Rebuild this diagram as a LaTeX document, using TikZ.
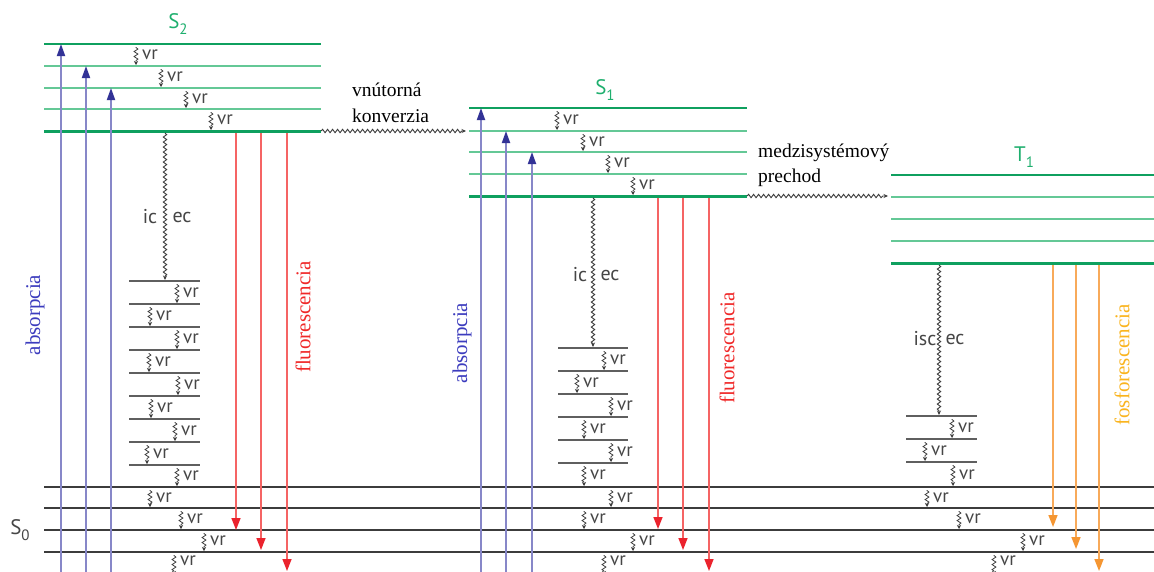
\documentclass[tikz,border=0pt]{standalone}
\usepackage{fontspec}
\setmainfont{Liberation Serif}
\setsansfont{PT Sans}
\usetikzlibrary{arrows.meta,decorations.pathmorphing}
\definecolor{greenD}{RGB}{15,160,95}
\definecolor{greenL}{RGB}{100,200,150}
\definecolor{greenS}{RGB}{30,175,110}
\definecolor{blueL}{RGB}{135,135,200}
\definecolor{blueD}{RGB}{50,50,150}
\definecolor{blueT}{RGB}{60,60,190}
\definecolor{redL}{RGB}{245,100,100}
\definecolor{redD}{RGB}{235,35,45}
\definecolor{redT}{RGB}{240,40,40}
\definecolor{orangeL}{RGB}{248,170,90}
\definecolor{orangeD}{RGB}{245,150,50}
\definecolor{orangeT}{RGB}{250,180,30}
\definecolor{grayD}{RGB}{60,60,60}
\definecolor{grayL}{RGB}{95,95,95}
\definecolor{waveC}{RGB}{60,60,60}
\definecolor{labC}{RGB}{70,70,70}
% x, ytop, ybottom, name, label y
\newcommand\vrm[5]{%
  \coordinate (#4t) at (#1,#2+3);
  \coordinate (#4b) at (#1,#3-1);
  \draw[vrsq] (#4t) -- (#4b);
  \node[vrlab] (#4) at (#1+6,#5) {vr};
}
\begin{document}
\begin{tikzpicture}[x=1pt,y=-1pt,
  lvtop/.style={draw=greenD,line width=1.8pt},
  lvmid/.style={draw=greenL,line width=1.6pt},
  lvbot/.style={draw=greenD,line width=3pt},
  lvgray/.style={draw=grayL,line width=1.3pt},
  lvground/.style={draw=grayD,line width=1.3pt},
  absarr/.style={draw=blueL,line width=1.8pt,-{Triangle[length=12pt,width=8pt,color=blueD]}},
  fluarr/.style={draw=redL,line width=1.5pt,-{Triangle[length=12pt,width=9pt,color=redD]}},
  fosarr/.style={draw=orangeL,line width=1.5pt,-{Triangle[length=12pt,width=9pt,color=orangeD]}},
  vrsq/.style={draw=waveC,line width=0.8pt,decorate,decoration={snake,amplitude=1.9pt,segment length=5pt,pre length=0.5pt,post length=3pt},-{Stealth[length=4pt,width=4pt]}},
  wavy/.style={draw=waveC,line width=0.9pt,decorate,decoration={snake,amplitude=1.7pt,segment length=5pt,post length=3pt},-{Stealth[length=4.5pt,width=4pt]}},
  vrlab/.style={font=\sffamily\fontsize{19}{19}\selectfont,text=labC,anchor=west,inner sep=0pt},
  sublab/.style={font=\sffamily\fontsize{20}{20}\selectfont,text=labC,inner sep=0pt},
  statelab/.style={font=\sffamily\fontsize{21}{21}\selectfont,text=greenS,inner sep=0pt},
  serlab/.style={font=\rmfamily\fontsize{19.5}{26}\selectfont,anchor=base west,inner sep=0pt},
  rotlab/.style={font=\rmfamily\fontsize{21}{21}\selectfont,rotate=90,inner sep=0pt}
]
\fill[white] (0,0) rectangle (1154,571);
\useasboundingbox (0,0) rectangle (1154,571);

% ---------- S2 levels ----------
\foreach \y/\st [count=\i] in {44/lvtop,66/lvmid,88/lvmid,109/lvmid,131/lvbot}{
  \coordinate (sAa\i) at (44,\y); \coordinate (sAb\i) at (321,\y);
  \draw[\st] (sAa\i) -- (sAb\i);
}
% ---------- S1 levels ----------
\foreach \y/\st [count=\i] in {108/lvtop,131/lvmid,152/lvmid,174/lvmid,196/lvbot}{
  \coordinate (sBa\i) at (469,\y); \coordinate (sBb\i) at (747,\y);
  \draw[\st] (sBa\i) -- (sBb\i);
}
% ---------- T1 levels ----------
\foreach \y/\st [count=\i] in {175/lvtop,197/lvmid,219/lvmid,241/lvmid,263/lvbot}{
  \coordinate (tAa\i) at (891,\y); \coordinate (tAb\i) at (1154,\y);
  \draw[\st] (tAa\i) -- (tAb\i);
}
% ---------- short gray levels ----------
\foreach \y [count=\i] in {281,304,327,350,373,396,419,442,465}{
  \coordinate (gAa\i) at (129,\y); \coordinate (gAb\i) at (200,\y);
  \draw[lvgray] (gAa\i) -- (gAb\i);
}
\foreach \y [count=\i] in {348,371,394,417,440,463}{
  \coordinate (gBa\i) at (558,\y); \coordinate (gBb\i) at (628,\y);
  \draw[lvgray] (gBa\i) -- (gBb\i);
}
\foreach \y [count=\i] in {416,439,462}{
  \coordinate (gCa\i) at (906,\y); \coordinate (gCb\i) at (977,\y);
  \draw[lvgray] (gCa\i) -- (gCb\i);
}
% ---------- S0 ground levels ----------
\foreach \y/\w [count=\i] in {487/1.3pt,508/1.3pt,530/1.3pt,552/1.9pt}{
  \coordinate (gnda\i) at (44,\y); \coordinate (gndb\i) at (1154,\y);
  \draw[lvground,line width=\w] (gnda\i) -- (gndb\i);
}

% ---------- absorption arrows ----------
\foreach \x/\y [count=\i] in {61/44,86/66,111/88,481/108,506/131,532/152}{
  \coordinate (abs\i) at (\x,576); \coordinate (abe\i) at (\x,\y);
  \draw[absarr] (abs\i) -- (abe\i);
}
% ---------- fluorescence arrows ----------
\foreach \x/\a/\b [count=\i] in {236/133/530,261/133/550,287/133/571,658/198/529,683/198/550,709/198/571}{
  \coordinate (fls\i) at (\x,\a); \coordinate (fle\i) at (\x,\b);
  \draw[fluarr] (fls\i) -- (fle\i);
}
% ---------- phosphorescence arrows ----------
\foreach \x/\b [count=\i] in {1053/527,1076/549,1099/571}{
  \coordinate (fos\i) at (\x,265); \coordinate (foe\i) at (\x,\b);
  \draw[fosarr] (fos\i) -- (foe\i);
}

% ---------- vr squiggles ----------
\foreach \x/\a/\b/\m [count=\i] in {136/44/66/55,161/66/88/77,186/88/109/98.5,211/109/131/120,
   557/108/131/119.5,583/131/152/141.5,608/152/174/163,633/174/196/185}{
  \vrm{\x}{\a}{\b}{vrU\i}{\m}
}
\foreach \x/\a/\b/\m [count=\i] in {177/281/304/292.5,150/304/327/315.5,177/327/350/338.5,149/350/373/361.5,
   178/373/396/384.5,151/396/419/407.5,175/419/442/430.5,147/442/465/453.5,177/465/487/476,150/487/508/497.5,
   181/508/530/519,204/530/552/541,174/552/576/561}{
  \vrm{\x}{\a}{\b}{vrA\i}{\m}
}
\foreach \x/\a/\b/\m [count=\i] in {604/348/371/359.5,577/371/394/382.5,611/394/417/405.5,584/417/440/428.5,
   611/440/463/451.5,584/463/487/475,611/487/508/497.5,584/508/530/519,633/530/552/541,604/552/576/561}{
  \vrm{\x}{\a}{\b}{vrB\i}{\m}
}
\foreach \x/\a/\b/\m [count=\i] in {952/416/439/427.5,925/439/462/450.5,953/462/487/474.5,927/487/508/497.5,
   959/508/530/519,1023/530/552/541,994/552/576/561}{
  \vrm{\x}{\a}{\b}{vrC\i}{\m}
}

% ---------- long wavy transitions ----------
\coordinate (icAs) at (165,133); \coordinate (icAe) at (165,280);
\draw[wavy] (icAs) -- (icAe);
\coordinate (icBs) at (593,198); \coordinate (icBe) at (593,347);
\draw[wavy] (icBs) -- (icBe);
\coordinate (icCs) at (939,265); \coordinate (icCe) at (939,415);
\draw[wavy] (icCs) -- (icCe);
\draw[wavy] (sAb5) -- (466,131) coordinate (kvE);
\draw[wavy] (sBb5) -- (888,196) coordinate (isE);

% ---------- labels ----------
\node[sublab] (icA) at (150,217) {ic};
\node[sublab] (ecA) at (182,217) {ec};
\node[sublab] (icB) at (580,275) {ic};
\node[sublab] (ecB) at (610,275) {ec};
\node[sublab] (iscC) at (925,339) {isc};
\node[sublab] (ecC) at (955,339) {ec};

\node[statelab] (S2) at (178,24) {S\raisebox{-6pt}{\fontsize{15}{15}\selectfont 2}};
\node[statelab] (S1) at (605,90) {S\raisebox{-6pt}{\fontsize{15}{15}\selectfont 1}};
\node[statelab] (T1) at (1024,157) {T\raisebox{-6pt}{\fontsize{15}{15}\selectfont 1}};
\node[statelab,text=labC] (S0) at (20,530) {S\raisebox{-6pt}{\fontsize{15}{15}\selectfont 0}};

\node[serlab] (vn1) at (352,96) {vnútorná};
\node[serlab] (vn2) at (352,122) {konverzia};
\node[serlab] (md1) at (758,157) {medzisystémový};
\node[serlab] (md2) at (758,182) {prechod};

\node[rotlab,text=blueT] (absA) at (35,315) {absorpcia};
\node[rotlab,text=blueT] (absB) at (462,343) {absorpcia};
\node[rotlab,text=redT] (fluA) at (303,317) {fluorescencia};
\node[rotlab,text=redT] (fluB) at (727,348) {fluorescencia};
\node[rotlab,text=orangeT] (fosC) at (1122,365) {fosforescencia};
\end{tikzpicture}
\end{document}
